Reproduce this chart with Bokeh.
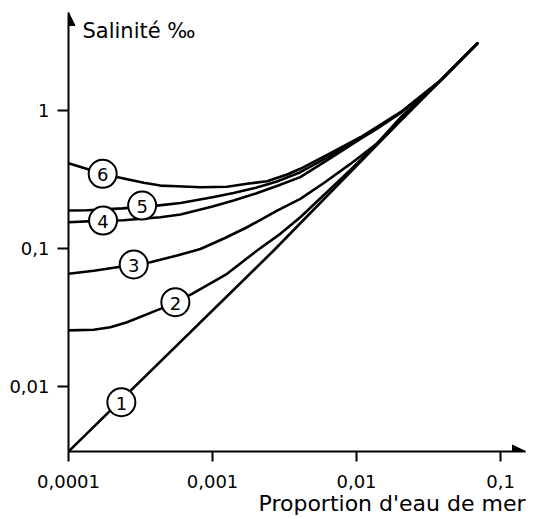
from bokeh.plotting import figure
from bokeh.models import (Range1d, FixedTicker, CustomJSTickFormatter, Label, Arrow,
                          NormalHead, Title)
from bokeh.core.properties import value
from bokeh.embed import file_html
from bokeh.resources import INLINE

# ---------------- data ----------------
x_ticks = [0.0001, 0.001, 0.01, 0.1]
x_tick_labels = ["0,0001", "0,001", "0,01", "0,1"]
y_ticks = [0.01, 0.1, 1]
y_tick_labels = ["0,01", "0,1", "1"]

x_title = "Proportion d'eau de mer"
y_title = "Salinité ‰"

c1_x = [0.0001, 0.00266, 0.0202, 0.069]
c1_y = [0.00339, 0.0966, 0.84, 3.05]

c2_x = [0.0001, 0.0001496, 0.0001954, 0.000255, 0.0004345, 0.000552, 0.000721, 0.001262,
        0.00204, 0.00297, 0.00407, 0.00907, 0.014, 0.0202, 0.0383, 0.069]
c2_y = [0.0255, 0.0258, 0.0269, 0.0292, 0.0365, 0.0408, 0.0469, 0.0655,
        0.0966, 0.128, 0.168, 0.37, 0.58, 0.85, 1.64, 3.05]

c3_x = [0.0001, 0.00015, 0.0002176, 0.0002837, 0.0003706, 0.000568, 0.000824, 0.0012,
        0.001738, 0.00281, 0.00407, 0.006, 0.00907, 0.014, 0.0202, 0.0383, 0.069]
c3_y = [0.0655, 0.069, 0.0731, 0.0765, 0.0795, 0.0888, 0.099, 0.118,
        0.1423, 0.188, 0.2286, 0.30, 0.409, 0.58, 0.886, 1.64, 3.05]

c4_x = [0.0001, 0.0001738, 0.00024, 0.0004345, 0.0006, 0.001, 0.0014, 0.002, 0.0028,
        0.00407, 0.00659, 0.01064, 0.014, 0.0202, 0.0383, 0.069]
c4_y = [0.1548, 0.159, 0.16, 0.168, 0.176, 0.201, 0.222, 0.2496, 0.283,
        0.328, 0.45, 0.62, 0.74, 0.955, 1.64, 3.05]

c5_x = [0.0001, 0.0001345, 0.000237, 0.000412, 0.0006, 0.001, 0.0014, 0.002, 0.0028,
        0.00407, 0.00659, 0.01064, 0.014, 0.0202, 0.0383, 0.069]
c5_y = [0.188, 0.189, 0.195, 0.204, 0.213, 0.235, 0.252, 0.275, 0.305,
        0.356, 0.47, 0.63, 0.75, 0.96, 1.64, 3.05]

c6_x = [0.0001, 0.0001727, 0.00022, 0.000333, 0.0004345, 0.000568, 0.000824, 0.001263,
        0.001738, 0.002394, 0.003296, 0.00407, 0.00659, 0.01064, 0.0202, 0.0383, 0.069]
c6_y = [0.414, 0.347, 0.328, 0.2985, 0.285, 0.282, 0.277, 0.2792,
        0.2935, 0.3064, 0.3426, 0.377, 0.49, 0.638, 0.968, 1.64, 3.05]

curves_x = [c1_x, c2_x, c3_x, c4_x, c5_x, c6_x]
curves_y = [c1_y, c2_y, c3_y, c4_y, c5_y, c6_y]

label_text = ["1", "2", "3", "4", "5", "6"]
label_x = [0.0002328, 0.000552, 0.0002837, 0.0001738, 0.0003246, 0.0001727]
label_y = [0.0077, 0.0408, 0.0765, 0.159, 0.2044, 0.347]

x_min, x_max = 0.0001, 0.149
y_min, y_max = 0.00339, 5.1

FONT = "DejaVu Sans"

# ---------------- figure ----------------
p = figure(width=533, height=519, x_axis_type="log", y_axis_type="log",
           x_range=Range1d(x_min, x_max), y_range=Range1d(y_min, y_max),
           output_backend="svg", toolbar_location=None,
           min_border_left=68, min_border_right=8, min_border_top=12, min_border_bottom=68)
p.outline_line_color = None
p.grid.visible = False
p.background_fill_color = "white"
p.border_fill_color = "white"

fmt_code = """
let best = 0;
for (let i = 0; i < tv.length; i++) {
  if (Math.abs(Math.log10(tick) - Math.log10(tv[i])) <
      Math.abs(Math.log10(tick) - Math.log10(tv[best]))) best = i;
}
return tl[best];
"""
p.xaxis.ticker = FixedTicker(ticks=x_ticks)
p.yaxis.ticker = FixedTicker(ticks=y_ticks)
p.xaxis.formatter = CustomJSTickFormatter(args=dict(tv=x_ticks, tl=x_tick_labels), code=fmt_code)
p.yaxis.formatter = CustomJSTickFormatter(args=dict(tv=y_ticks, tl=y_tick_labels), code=fmt_code)

for ax in (p.xaxis[0], p.yaxis[0]):
    ax.axis_line_width = 2
    ax.axis_line_color = "black"
    ax.major_tick_line_width = 2
    ax.major_tick_line_color = "black"
    ax.major_tick_in = 0
    ax.minor_tick_line_color = None
    ax.major_label_text_font = FONT
    ax.major_label_text_font_size = "18px"
    ax.major_label_text_color = "black"
p.xaxis.major_tick_out = 10
p.xaxis.major_label_standoff = 13
p.yaxis.major_tick_out = 11
p.yaxis.major_label_standoff = 8

# x-axis title, right aligned under the axis
p.add_layout(Title(text=x_title, align="right", text_font=FONT, text_font_size="22px",
                   text_font_style="normal", text_color="black", standoff=-3), "below")

# ---------------- curves ----------------
for cx, cy in zip(curves_x, curves_y):
    p.line(cx, cy, line_color="black", line_width=2.6, line_join="round", line_cap="round")

# numbered circles
p.scatter(label_x, label_y, marker="circle", size=28, fill_color="white",
          line_color="black", line_width=2)
p.text(label_x, label_y, text=label_text, text_align="center", text_baseline="middle",
       text_font=value(FONT), text_font_size="18px", text_color="black", y_offset=1)

# axis arrows
p.add_layout(Arrow(end=NormalHead(size=13, fill_color="black", line_color="black"),
                   x_start=0.1, y_start=y_min, x_end=x_max, y_end=y_min, line_alpha=0))
p.add_layout(Arrow(end=NormalHead(size=13, fill_color="black", line_color="black"),
                   x_start=x_min, y_start=1, x_end=x_min, y_end=y_max, line_alpha=0))

# y-axis title at the top of the axis
p.add_layout(Label(x=x_min, y=y_max, x_offset=14, y_offset=-6, text=y_title,
                   text_baseline="top", text_align="left", text_font=FONT,
                   text_font_size="21px", text_color="black"))

open("out.html", "w").write(file_html(p, INLINE))
